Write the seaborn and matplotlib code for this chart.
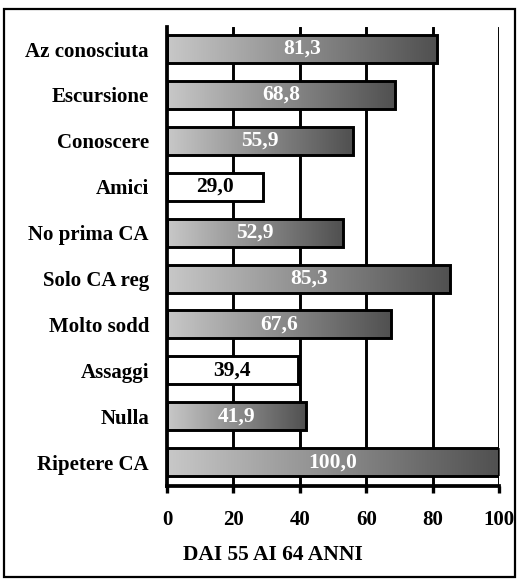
import numpy as np
import matplotlib
matplotlib.use("Agg")
import matplotlib.pyplot as plt
from matplotlib.colors import LinearSegmentedColormap
from matplotlib.patches import Rectangle
import seaborn as sns
import pandas as pd

categories = ["Az conosciuta", "Escursione", "Conoscere", "Amici", "No prima CA",
              "Solo CA reg", "Molto sodd", "Assaggi", "Nulla", "Ripetere CA"]
values = [81.3, 68.8, 55.9, 29.0, 52.9, 85.3, 67.6, 39.4, 41.9, 100.0]
x_ticks = [0, 20, 40, 60, 80, 100]
x_title = "DAI 55 AI 64 ANNI"

# bars drawn with a plain white face instead of the grey shading
plain_bars = {"Amici", "Assaggi"}

sns.set_theme(style="white")
plt.rcParams["font.family"] = ["Liberation Serif", "DejaVu Serif"]
plt.rcParams["font.weight"] = "bold"

df = pd.DataFrame({"cat": categories, "val": values})

fig = plt.figure(figsize=(5.18, 5.80), dpi=100)
ax = fig.add_axes([167 / 518, 1 - 486 / 580, 332 / 518, 459 / 580])

sns.barplot(data=df, x="val", y="cat", orient="h", color="white",
            width=0.61, edgecolor="black", linewidth=2.1, saturation=1, ax=ax)

shade = LinearSegmentedColormap.from_list("shade", ["#c8c8c8", "#505050"])
grad = np.linspace(0, 1, 256).reshape(1, -1)

for patch, cat, v in zip(ax.patches, categories, values):
    patch.set_zorder(3)
    x0, y0 = patch.get_x(), patch.get_y()
    w, h = patch.get_width(), patch.get_height()
    if cat not in plain_bars:
        patch.set_facecolor("none")
        im = ax.imshow(grad, cmap=shade, aspect="auto",
                       extent=(x0, x0 + w, y0 + h, y0), zorder=2.5,
                       interpolation="bicubic")
        im.set_clip_path(patch)
        tc = "white"
    else:
        tc = "black"
    ax.text(x0 + w / 2, y0 + h / 2, f"{v:.1f}".replace(".", ","),
            ha="center", va="center", color=tc, fontsize=15.5,
            fontweight="bold", zorder=4)

ax.set_xlim(0, 100)
ax.set_ylim(9.52, -0.48)
ax.set_xticks(x_ticks)
ax.set_xticklabels([str(t) for t in x_ticks])
ax.set_xlabel("")
ax.set_ylabel("")

for t in x_ticks[1:]:
    ax.axvline(t, color="black", lw=2.1, zorder=1)

for side in ["top", "right"]:
    ax.spines[side].set_visible(False)
for side in ["left", "bottom"]:
    ax.spines[side].set_color("black")
    ax.spines[side].set_linewidth(2.7)
    ax.spines[side].set_zorder(5)

ax.tick_params(axis="x", direction="out", length=5, width=2.4, color="black",
               labelsize=15, pad=12, bottom=True)
ax.tick_params(axis="y", length=0, labelsize=15, pad=13)
for lbl in ax.get_xticklabels() + ax.get_yticklabels():
    lbl.set_fontweight("bold")
    lbl.set_color("black")

fig.text(273 / 518, 1 - 555 / 580, x_title, ha="center", va="center",
         fontsize=15.5, fontweight="bold", color="black")

fig.patches.append(Rectangle((4 / 518, 1 - 577 / 580), 511 / 518, 568 / 580,
                             transform=fig.transFigure, fill=False,
                             edgecolor="black", lw=1.6))

fig.savefig("out.png", dpi=100)
